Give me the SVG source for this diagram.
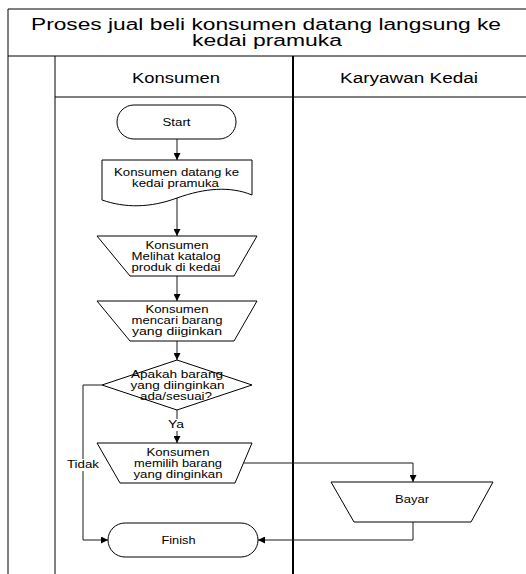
<svg xmlns="http://www.w3.org/2000/svg" width="526" height="574" viewBox="0 0 526 574">
<defs>
<style>
.frame{fill:none;stroke:#000;stroke-width:1}
.shape{fill:#fff;stroke:#000;stroke-width:1}
.conn{fill:none;stroke:#1a1a1a;stroke-width:1}
text{font-family:"Liberation Sans",Arial,sans-serif;fill:#000;text-anchor:middle}
.t{font-size:16px}
.h{font-size:14px}
.s{font-size:10.5px}
</style>
<marker id="arr" viewBox="0 0 10 10" refX="10" refY="5" markerWidth="7" markerHeight="7" markerUnits="userSpaceOnUse" orient="auto">
<path d="M0,0 L10,5 L0,10 Z" fill="#000"/>
</marker>
</defs>
<rect width="526" height="574" fill="#fff"/>
<g id="pool">
<path class="frame" d="M8,9 H526 M8,56 H526 M8,9 V574 M55,56 V574 M55,97 H526"/>
<path d="M293,56 V574" stroke="#000" stroke-width="2" fill="none"/>
<text class="t" x="266" y="30" textLength="470" lengthAdjust="spacingAndGlyphs">Proses jual beli konsumen datang langsung ke</text>
<text class="t" x="267" y="46" textLength="150" lengthAdjust="spacingAndGlyphs">kedai pramuka</text>
<text class="h" x="176" y="83" textLength="88" lengthAdjust="spacingAndGlyphs">Konsumen</text>
<text class="h" x="409" y="83" textLength="138" lengthAdjust="spacingAndGlyphs">Karyawan Kedai</text>
</g>
<g id="connectors">
<path class="conn" d="M177,139 V160" marker-end="url(#arr)"/>
<path class="conn" d="M177,198 V236" marker-end="url(#arr)"/>
<path class="conn" d="M177,276 V301" marker-end="url(#arr)"/>
<path class="conn" d="M177,341 V360" marker-end="url(#arr)"/>
<path class="conn" d="M177,410 V443" marker-end="url(#arr)"/>
<path class="conn" d="M102,385 H83 V540 H108" marker-end="url(#arr)"/>
<path class="conn" d="M244,463 H413 V482" marker-end="url(#arr)"/>
<path class="conn" d="M413,522 V540 H258" marker-end="url(#arr)"/>
<rect x="168" y="419" width="17" height="12" fill="#fff"/>
<text class="s" x="176" y="428" textLength="16" lengthAdjust="spacingAndGlyphs">Ya</text>
<rect x="66" y="459" width="34" height="12" fill="#fff"/>
<text class="s" x="83" y="468" textLength="32" lengthAdjust="spacingAndGlyphs">Tidak</text>
</g>
<g id="start">
<rect class="shape" x="117" y="105" width="119" height="34" rx="17" ry="17"/>
<text class="s" x="176.5" y="126" textLength="28" lengthAdjust="spacingAndGlyphs">Start</text>
</g>
<g id="datang">
<path class="shape" d="M102,160 H252 V195 C230,186 205,188 177,198 C150,208 125,208 102,200 Z"/>
<text class="s" x="176.5" y="176" textLength="125" lengthAdjust="spacingAndGlyphs">Konsumen datang ke</text>
<text class="s" x="175.5" y="187" textLength="87" lengthAdjust="spacingAndGlyphs">kedai pramuka</text>
</g>
<g id="melihat">
<path class="shape" d="M97,236 H257 L234,276 H130 Z"/>
<text class="s" x="177" y="249" textLength="63" lengthAdjust="spacingAndGlyphs">Konsumen</text>
<text class="s" x="176" y="260" textLength="89" lengthAdjust="spacingAndGlyphs">Melihat katalog</text>
<text class="s" x="176" y="271" textLength="89" lengthAdjust="spacingAndGlyphs">produk di kedai</text>
</g>
<g id="mencari">
<path class="shape" d="M97,301 H257 L234,341 H130 Z"/>
<text class="s" x="177" y="313" textLength="63" lengthAdjust="spacingAndGlyphs">Konsumen</text>
<text class="s" x="177" y="324" textLength="91" lengthAdjust="spacingAndGlyphs">mencari barang</text>
<text class="s" x="177" y="335" textLength="90" lengthAdjust="spacingAndGlyphs">yang diiginkan</text>
</g>
<g id="decision">
<path class="shape" d="M177,360 L252,385 L177,410 L102,385 Z"/>
<text class="s" x="177" y="378" textLength="92" lengthAdjust="spacingAndGlyphs">Apakah barang</text>
<text class="s" x="177.5" y="389" textLength="94" lengthAdjust="spacingAndGlyphs">yang diinginkan</text>
<text class="s" x="176" y="400" textLength="72" lengthAdjust="spacingAndGlyphs">ada/sesuai?</text>
</g>
<g id="memilih">
<path class="shape" d="M97,443 H252 L235,483 H120 Z"/>
<text class="s" x="178" y="456" textLength="63" lengthAdjust="spacingAndGlyphs">Konsumen</text>
<text class="s" x="178" y="467" textLength="88" lengthAdjust="spacingAndGlyphs">memilih barang</text>
<text class="s" x="178" y="478" textLength="89" lengthAdjust="spacingAndGlyphs">yang dinginkan</text>
</g>
<g id="bayar">
<path class="shape" d="M331,482 H493 L471,522 H354 Z"/>
<text class="s" x="412" y="503" textLength="34" lengthAdjust="spacingAndGlyphs">Bayar</text>
</g>
<g id="finish">
<rect class="shape" x="108" y="523" width="150" height="34" rx="17" ry="17"/>
<text class="s" x="178.5" y="544" textLength="34" lengthAdjust="spacingAndGlyphs">Finish</text>
</g>
</svg>
